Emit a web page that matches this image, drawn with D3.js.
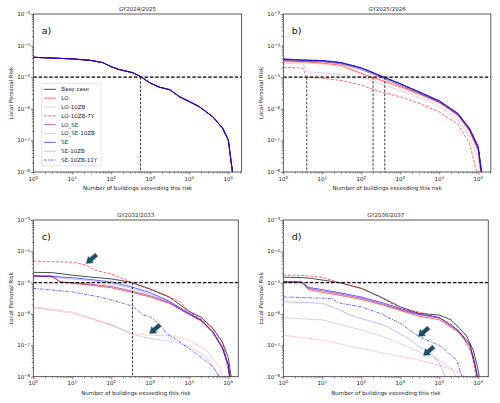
<!DOCTYPE html>
<html>
<head>
<meta charset="utf-8">
<script src="https://cdn.jsdelivr.net/npm/d3@7"></script>
<style>
  body { margin: 0; background: #fff; }
  svg { display: block; }
</style>
</head>
<body>
<svg width="500" height="403"></svg>
<script>
// series, in legend / drawing order
var seriesNames = ["Base case","LO","LO-10ZB","LO-10ZB-7Y","LO_SE","LO_SE-10ZB","SE","SE-10ZB","SE-10ZB-11Y"]
var seriesColors = ["#000000","#ff0000","#ff0000","#ff0000","#800080","#800080","#0000ff","#0000ff","#0000ff"]
var seriesAlpha = [0.7, 0.6, 0.2, 0.6, 0.6, 0.2, 0.6, 0.25, 0.6]
var seriesDash = [null, null, null, "3,1.5", null, null, null, null, "3,1.2,1,1.2"]

var titles = ["GY2024/2025","GY2025/2026","GY2032/2033","GY2036/2037"]
var letters = ["a)","b)","c)","d)"]
var xMaxes = [2.2e5, 2.1e5, 1.8e5, 1.8e5]
var riskLimit = 1e-5

// [number of buildings, local personal risk]
// 2024/2025: every scenario gives the same curve
var curveA = [[1,4.27e-5],[10,3.8e-5],[30,3.4e-5],[60,2.9e-5],[100,2.14e-5],[150,1.78e-5],[360,1.38e-5],[560,1.05e-5],[1000,6.5e-6],[1750,4.8e-6],[3200,4.0e-6],[5600,2.4e-6],[10000,1.7e-6],[18000,1.17e-6],[40000,5.6e-7],[72000,2.4e-7],[100000,1.02e-7],[131000,8e-9]]
var riskA = seriesNames.map(() => curveA)

var riskB = [
  [[1,3.7e-5],[3,3.45e-5],[10,3.3e-5],[30,2.85e-5],[100,1.95e-5],[300,1.12e-5],[1000,6.1e-6],[3000,3.4e-6],[10000,1.75e-6],[30000,7.0e-7],[60000,2.3e-7],[100000,6e-8],[123000,8e-9]],
  [[1,3.24e-5],[3,3.1e-5],[10,2.8e-5],[30,2.4e-5],[100,1.32e-5],[300,8.3e-6],[1000,5.0e-6],[3000,3.0e-6],[10000,1.58e-6],[30000,6.3e-7],[60000,2.0e-7],[100000,5e-8],[120000,8e-9]],
  [[1,3.0e-5],[3,2.9e-5],[10,2.6e-5],[30,2.2e-5],[100,1.2e-5],[300,7.6e-6],[1000,4.6e-6],[3000,2.8e-6],[10000,1.5e-6],[30000,5.8e-7],[60000,1.8e-7],[100000,4e-8],[118000,8e-9]],
  [[1,2.04e-5],[3.2,1.95e-5],[3.9,1.0e-5],[10,9.3e-6],[30,7.9e-6],[100,5.6e-6],[300,3.5e-6],[1000,2.4e-6],[3000,1.5e-6],[10000,7.9e-7],[30000,3.2e-7],[60000,7.9e-8],[95000,8e-9]],
  [[1,3.4e-5],[3,3.2e-5],[10,3.1e-5],[30,2.65e-5],[100,1.75e-5],[300,1.02e-5],[1000,5.5e-6],[3000,3.15e-6],[10000,1.65e-6],[30000,6.5e-7],[60000,2.1e-7],[100000,5e-8],[121000,8e-9]],
  [[1,2.75e-5],[3.2,2.65e-5],[3.9,1.48e-5],[10,1.38e-5],[30,1.2e-5],[100,1.0e-5],[300,6.3e-6],[1000,3.8e-6],[3000,2.24e-6],[10000,1.2e-6],[30000,4.5e-7],[60000,1.26e-7],[100000,2.5e-8],[112000,8e-9]],
  [[1,3.8e-5],[3,3.55e-5],[10,3.4e-5],[30,2.95e-5],[100,2.0e-5],[300,1.15e-5],[1000,6.3e-6],[3000,3.5e-6],[10000,1.8e-6],[30000,7.2e-7],[60000,2.4e-7],[100000,6.3e-8],[125000,8e-9]],
  [[1,3.6e-5],[3,3.4e-5],[10,3.25e-5],[30,2.8e-5],[100,1.9e-5],[300,1.08e-5],[1000,5.9e-6],[3000,3.3e-6],[10000,1.7e-6],[30000,6.8e-7],[60000,2.2e-7],[100000,5.5e-8],[122000,8e-9]],
  [[1,3.75e-5],[3,3.5e-5],[10,3.35e-5],[30,2.9e-5],[100,1.98e-5],[300,1.14e-5],[1000,6.2e-6],[3000,3.45e-6],[10000,1.78e-6],[30000,7.1e-7],[60000,2.35e-7],[100000,6.2e-8],[124000,8e-9]]
]

var riskC = [
  [[1,2.14e-5],[3,2.1e-5],[10,1.74e-5],[30,1.51e-5],[100,1.32e-5],[300,1.05e-5],[1000,6.3e-6],[3000,3.55e-6],[10000,1.2e-6],[20000,7.9e-7],[40000,3.5e-7],[70000,1.3e-7],[100000,4e-8],[122000,8e-9]],
  [[1,1.6e-5],[3,1.55e-5],[5,1.05e-5],[10,9.5e-6],[30,8.3e-6],[100,6.9e-6],[300,5.1e-6],[1000,3.5e-6],[3000,2.2e-6],[10000,9.5e-7],[20000,6e-7],[40000,2.6e-7],[70000,8e-8],[100000,2.2e-8],[110000,8e-9]],
  [[1,1.6e-6],[10,1.05e-6],[100,4.5e-7],[350,2.4e-7],[1000,2.1e-7],[3800,2.0e-7],[10000,1.48e-7],[27000,7.1e-8],[60000,2.1e-8],[73000,8e-9]],
  [[1,4.9e-5],[10,4.5e-5],[23,3.6e-5],[38,2.5e-5],[100,1.9e-5],[350,1.0e-5],[1000,5.9e-6],[3000,3.5e-6],[5700,2.5e-6],[10000,1.17e-6],[19000,7.2e-7],[40000,3.5e-7],[73000,1.15e-7],[110000,8e-9]],
  [[1,1.66e-5],[3,1.6e-5],[5,1.07e-5],[10,1.0e-5],[30,8.9e-6],[100,7.6e-6],[300,5.6e-6],[1000,3.8e-6],[3000,2.34e-6],[10000,1.0e-6],[20000,6.3e-7],[40000,2.7e-7],[70000,8.5e-8],[100000,2.3e-8],[110000,8e-9]],
  [[1,1.7e-6],[10,1.17e-6],[100,4.5e-7],[350,2.2e-7],[1000,1.66e-7],[3800,1.32e-7],[10000,9.1e-8],[27000,4.4e-8],[65000,8e-9]],
  [[1,1.66e-5],[3,1.62e-5],[5,1.51e-5],[10,1.45e-5],[30,1.26e-5],[100,1.05e-5],[300,7.6e-6],[1000,4.8e-6],[3000,2.6e-6],[10000,1.05e-6],[20000,6.5e-7],[40000,2.8e-7],[70000,9e-8],[100000,2.5e-8],[112000,8e-9]],
  [[1,1.6e-5],[3,1.55e-5],[5,1.4e-5],[10,1.32e-5],[30,1.15e-5],[100,9.3e-6],[300,6.8e-6],[1000,4.3e-6],[3000,2.5e-6],[10000,1.0e-6],[20000,6.2e-7],[40000,2.7e-7],[70000,8.5e-8],[100000,2.3e-8],[110000,8e-9]],
  [[1,6.6e-6],[10,5.1e-6],[50,3.5e-6],[100,2.8e-6],[350,1.8e-6],[660,9.3e-7],[1000,8.1e-7],[1800,4.5e-7],[2600,2.4e-7],[4800,1.48e-7],[10000,7.9e-8],[19000,4.4e-8],[40000,2.1e-8],[67000,8e-9]]
]

var riskD = [
  [[1,1.5e-5],[3,1.45e-5],[5,1.38e-5],[28,1.0e-5],[100,6.6e-6],[300,3.6e-6],[1000,1.7e-6],[3000,1.05e-6],[10000,9.3e-7],[20000,6.5e-7],[30000,4e-7],[50000,2e-7],[74000,7e-8],[95000,2.1e-8],[110000,8e-9]],
  [[1,1.05e-5],[3,1.03e-5],[4.4,6.0e-6],[10,4.9e-6],[30,3.9e-6],[100,2.9e-6],[350,1.95e-6],[1300,1.17e-6],[3000,8.5e-7],[10000,6.6e-7],[30000,2.7e-7],[60000,9.5e-8],[80000,2.5e-8],[96000,8e-9]],
  [[1,2.1e-7],[10,1.48e-7],[100,7.9e-8],[1000,4.4e-8],[3000,3.4e-8],[10000,2.3e-8],[30000,1.45e-8],[60000,8e-9]],
  [[1,1.74e-5],[3,1.7e-5],[10,1.48e-5],[28,1.0e-5],[100,6.6e-6],[300,3.5e-6],[1000,1.5e-6],[3000,1.15e-6],[10000,7.5e-7],[20000,4.8e-7],[40000,2.0e-7],[70000,5e-8],[90000,8e-9]],
  [[1,1.07e-5],[3,1.05e-5],[4.4,6.6e-6],[10,5.5e-6],[30,4.3e-6],[100,3.2e-6],[350,2.1e-6],[1300,1.25e-6],[3000,9.5e-7],[10000,7.4e-7],[30000,2.9e-7],[60000,1.05e-7],[80000,2.8e-8],[98000,8e-9]],
  [[1,7.6e-7],[10,6.5e-7],[100,3.1e-7],[360,1.9e-7],[1000,1.15e-7],[3000,6.3e-8],[10000,3.4e-8],[20000,1.86e-8],[30000,8e-9]],
  [[1,1.07e-5],[3,1.05e-5],[4.4,7.1e-6],[10,6.0e-6],[30,4.7e-6],[100,3.5e-6],[350,2.3e-6],[1300,1.35e-6],[3000,1.0e-6],[10000,7.9e-7],[30000,3.1e-7],[60000,1.15e-7],[80000,3e-8],[100000,8e-9]],
  [[1,2.45e-6],[10,2.2e-6],[23,1.5e-6],[51,9.3e-7],[100,7.2e-7],[360,4.5e-7],[1000,2.4e-7],[1800,1.48e-7],[3000,9.1e-8],[5700,6.3e-8],[10000,2.7e-8],[15500,8e-9]],
  [[1,3.5e-6],[10,3.2e-6],[18,3.1e-6],[25,2.3e-6],[100,1.7e-6],[350,9.8e-7],[1000,5e-7],[3000,1.9e-7],[10000,1.0e-7],[28000,3.4e-8],[40000,8e-9]]
]

var allRisk = [riskA, riskB, riskC, riskD]
// buildings where the chosen curves cross the 1e-5 limit
var crossings = [[560], [4, 200, 400], [350], []]
// arrow tips [buildings, risk]
var arrowTips = [[], [], [[22, 3.98e-5], [930, 2.3e-7]], [[2800, 1.86e-7], [3800, 4.6e-8]]]

var xMajors = [1, 10, 100, 1000, 10000, 100000]
var yMajors = [1e-8, 1e-7, 1e-6, 1e-5, 1e-4, 1e-3]

// layout
var boxes = [
  {l: 33.3, t: 14, b: 172},
  {l: 283.3, t: 14, b: 172},
  {l: 33.3, t: 220, b: 376.7},
  {l: 283.3, t: 220, b: 376.7}
]
var decade = 39
var font = "DejaVu Sans, sans-serif"
var fs = 5.5

const svg = d3.select("svg")
  .style("font-family", font)

function powLabel(sel, exp) {
  sel.append("tspan").text("10")
  sel.append("tspan")
    .attr("dy", "-0.45em")
    .attr("font-size", fs * 0.72)
    .text(exp < 0 ? "\u2212" + (-exp) : exp)
}

boxes.forEach(function(box, i) {
  const right = box.l + decade * Math.log10(xMaxes[i])
  const x = d3.scaleLog().domain([1, xMaxes[i]]).range([box.l, right])
  const y = d3.scaleLog().domain([1e-8, 1e-3]).range([box.b, box.t])
  const g = svg.append("g")

  g.append("clipPath").attr("id", "clip" + i)
    .append("rect")
    .attr("x", box.l).attr("y", box.t)
    .attr("width", right - box.l).attr("height", box.b - box.t)

  // minor + major ticks
  const xMinors = []
  for (let d = 1; d < 1e6; d *= 10)
    for (let k = 2; k <= 9; k++) if (k * d <= xMaxes[i]) xMinors.push(k * d)
  const yMinors = []
  for (let d = 1e-8; d < 1e-3 * 0.99; d *= 10)
    for (let k = 2; k <= 9; k++) yMinors.push(k * d)

  const tickAttrs = s => s.call(a => a.select(".domain").remove())
    .selectAll("line").attr("stroke", "#333").attr("stroke-width", 0.6)

  g.append("g").attr("transform", `translate(0,${box.b})`)
    .call(d3.axisBottom(x).tickValues(xMajors).tickSize(2.6).tickFormat(() => ""))
    .call(tickAttrs)
  g.append("g").attr("transform", `translate(0,${box.b})`)
    .call(d3.axisBottom(x).tickValues(xMinors).tickSize(1.5).tickFormat(() => ""))
    .call(tickAttrs)
  g.append("g").attr("transform", `translate(${box.l},0)`)
    .call(d3.axisLeft(y).tickValues(yMajors).tickSize(2.6).tickFormat(() => ""))
    .call(tickAttrs)
  g.append("g").attr("transform", `translate(${box.l},0)`)
    .call(d3.axisLeft(y).tickValues(yMinors).tickSize(1.5).tickFormat(() => ""))
    .call(tickAttrs)

  // tick labels
  xMajors.forEach(function(v) {
    g.append("text")
      .attr("x", x(v)).attr("y", box.b + 8.5)
      .attr("text-anchor", "middle")
      .attr("font-size", fs).attr("fill", "#222")
      .call(powLabel, Math.round(Math.log10(v)))
  })
  yMajors.forEach(function(v) {
    g.append("text")
      .attr("x", box.l - 3.2).attr("y", y(v) + 2)
      .attr("text-anchor", "end")
      .attr("font-size", fs).attr("fill", "#222")
      .call(powLabel, Math.round(Math.log10(v)))
  })

  // curves
  const line = d3.line().x(d => x(d[0])).y(d => y(d[1]))
  const lines = g.append("g").attr("clip-path", `url(#clip${i})`)
  allRisk[i].forEach(function(pts, s) {
    lines.append("path")
      .attr("d", line(pts))
      .attr("fill", "none")
      .attr("stroke", seriesColors[s])
      .attr("stroke-opacity", seriesAlpha[s])
      .attr("stroke-width", 1)
      .attr("stroke-dasharray", seriesDash[s])
  })

  // risk limit and crossings
  lines.append("line")
    .attr("x1", box.l).attr("x2", right)
    .attr("y1", y(riskLimit)).attr("y2", y(riskLimit))
    .attr("stroke", "#000").attr("stroke-width", 1.2)
    .attr("stroke-dasharray", "3.5,1.8")
  crossings[i].forEach(function(n) {
    lines.append("line")
      .attr("x1", x(n)).attr("x2", x(n))
      .attr("y1", y(riskLimit)).attr("y2", box.b)
      .attr("stroke", "#222").attr("stroke-width", 0.9)
      .attr("stroke-dasharray", "2.5,1.6")
  })

  // arrows
  arrowTips[i].forEach(function(p) {
    const L = 14.5, hl = 7, hw = 9.5, sw = 4.6
    g.append("polygon")
      .attr("points", [[0,0],[-hl,hw/2],[-hl,sw/2],[-L,sw/2],[-L,-sw/2],[-hl,-sw/2],[-hl,-hw/2]].join(" "))
      .attr("transform", `translate(${x(p[0])},${y(p[1])}) rotate(140)`)
      .attr("fill", "#1d4f62")
      .attr("stroke", "#d6e4ea").attr("stroke-width", 0.5)
  })

  // frame
  g.append("rect")
    .attr("x", box.l).attr("y", box.t)
    .attr("width", right - box.l).attr("height", box.b - box.t)
    .attr("fill", "none").attr("stroke", "#333").attr("stroke-width", 0.8)

  // texts
  g.append("text")
    .attr("x", (box.l + right) / 2).attr("y", box.t - 3.3)
    .attr("text-anchor", "middle").attr("font-size", fs).attr("fill", "#222")
    .text(titles[i])
  g.append("text")
    .attr("x", (box.l + right) / 2).attr("y", box.b + 18)
    .attr("text-anchor", "middle").attr("font-size", fs).attr("fill", "#222")
    .text("Number of buildings exceeding this risk")
  g.append("text")
    .attr("transform", `translate(${box.l - 20.5},${(box.t + box.b) / 2}) rotate(-90)`)
    .attr("text-anchor", "middle").attr("font-size", fs).attr("fill", "#222")
    .text("Local Personal Risk")
  g.append("text")
    .attr("x", box.l + 8.5).attr("y", box.t + 19.5)
    .attr("font-size", 9.5).attr("fill", "#111")
    .text(letters[i])

  // legend only in first panel
  if (i === 0) {
    const lg = g.append("g")
    lg.append("rect")
      .attr("x", box.l + 8.3).attr("y", 83.3)
      .attr("width", 59.5).attr("height", 82.4)
      .attr("rx", 1.5)
      .attr("fill", "#fff").attr("fill-opacity", 0.85)
      .attr("stroke", "#d0d0d0").attr("stroke-width", 0.6)
    seriesNames.forEach(function(name, s) {
      const yy = 89.3 + s * 8.84
      lg.append("line")
        .attr("x1", box.l + 10.5).attr("x2", box.l + 22.5)
        .attr("y1", yy).attr("y2", yy)
        .attr("stroke", seriesColors[s])
        .attr("stroke-opacity", seriesAlpha[s])
        .attr("stroke-width", 1)
        .attr("stroke-dasharray", seriesDash[s])
      lg.append("text")
        .attr("x", box.l + 28).attr("y", yy + 1.9)
        .attr("font-size", fs).attr("fill", "#222")
        .text(name)
    })
  }
})
</script>
</body>
</html>
